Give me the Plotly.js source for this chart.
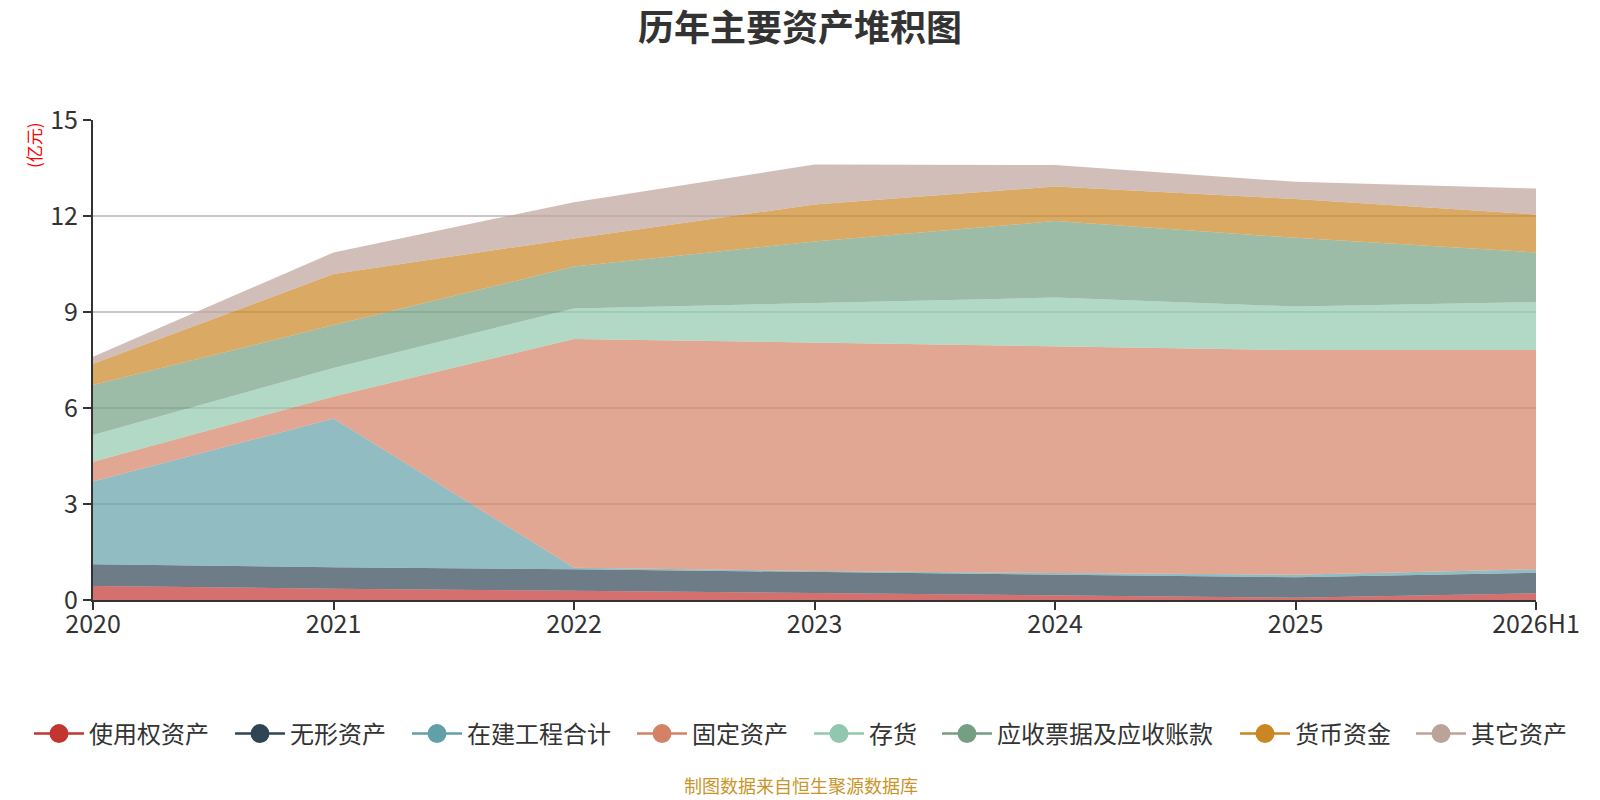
<!DOCTYPE html>
<html>
<head>
<meta charset="utf-8">
<script src="https://cdn.plot.ly/plotly-3.0.1.min.js"></script>
<style>
  html, body { margin: 0; padding: 0; background: #fff; }
  #chart { width: 1600px; height: 800px; }
</style>
</head>
<body>
<div id="chart"></div>
<script>
// 年份
const years = ["2020", "2021", "2022", "2023", "2024", "2025", "2026H1"];

// 各项资产（亿元），按堆积顺序
const rightOfUse   = [0.44, 0.35, 0.29, 0.21, 0.14, 0.07, 0.21];
const intangible   = [0.68, 0.67, 0.67, 0.66, 0.65, 0.64, 0.64];
const construction = [2.58, 4.65, 0.05, 0.04, 0.05, 0.08, 0.11];
const fixedAssets  = [0.62, 0.69, 7.15, 7.14, 7.08, 7.02, 6.85];
const inventory    = [0.84, 0.89, 0.95, 1.22, 1.53, 1.36, 1.50];
const receivables  = [1.56, 1.34, 1.31, 1.93, 2.39, 2.15, 1.55];
const cash         = [0.66, 1.60, 0.88, 1.16, 1.08, 1.21, 1.19];
const others       = [0.22, 0.67, 1.13, 1.25, 0.67, 0.54, 0.81];

const series = [
  { name: "使用权资产", y: rightOfUse, color: "#c23531" },
  { name: "无形资产", y: intangible, color: "#2f4554" },
  { name: "在建工程合计", y: construction, color: "#61a0a8" },
  { name: "固定资产", y: fixedAssets, color: "#d48265" },
  { name: "存货", y: inventory, color: "#91c7ae" },
  { name: "应收票据及应收账款", y: receivables, color: "#749f83" },
  { name: "货币资金", y: cash, color: "#ca8622" },
  { name: "其它资产", y: others, color: "#bda29a" }
];

// left edge of each legend entry's line (px from left)
const legendX = [29, 230, 407, 632, 809, 937, 1235, 1411];

function hexToRgba(hex, a) {
  const n = parseInt(hex.slice(1), 16);
  return "rgba(" + (n >> 16) + "," + ((n >> 8) & 255) + "," + (n & 255) + "," + a + ")";
}

const FONT = '"Noto Sans CJK SC", "Noto Sans", sans-serif';
const W = 1600, H = 800;
const M = { l: 93, r: 64, t: 120, b: 200 };
const plotW = W - M.l - M.r, plotH = H - M.t - M.b;

let traces = [];
// stacked areas
series.forEach(s => {
  traces.push({
    x: years,
    y: s.y,
    name: s.name,
    type: "scatter",
    mode: "lines",
    stackgroup: "one",
    line: { width: 0, color: s.color },
    fillcolor: hexToRgba(s.color, 0.7),
    showlegend: false,
    legendgroup: s.name,
    hoverinfo: "x+y+name"
  });
});
// legend entries (line + circle), one legend each so they spread like the original
series.forEach((s, i) => {
  traces.push({
    x: [null],
    y: [null],
    name: s.name,
    type: "scatter",
    mode: "lines+markers",
    line: { width: 2.5, color: s.color },
    marker: { size: 16, color: s.color, line: { width: 3, color: s.color } },
    legendgroup: s.name,
    legend: i === 0 ? "legend" : "legend" + (i + 1),
    showlegend: true,
    hoverinfo: "skip"
  });
});

const layout = {
  width: W,
  height: H,
  paper_bgcolor: "#fff",
  plot_bgcolor: "#fff",
  font: { family: FONT, color: "#333" },
  margin: M,
  title: {
    text: "<b>历年主要资产堆积图</b>",
    font: { size: 36, color: "#333", family: FONT },
    x: 0.5, xanchor: "center",
    y: 1 - 28 / H, yanchor: "middle"
  },
  xaxis: {
    type: "category",
    range: [0, 6],
    showgrid: false,
    showline: true,
    linecolor: "#333",
    linewidth: 2,
    ticks: "outside",
    ticklen: 8,
    tickwidth: 2,
    tickcolor: "#333",
    tickfont: { size: 25, color: "#333" },
    ticklabelstandoff: -7,
    zeroline: false,
    fixedrange: true
  },
  yaxis: {
    range: [0, 15],
    dtick: 3,
    tick0: 0,
    showgrid: true,
    gridcolor: "#c8c8c8",
    gridwidth: 1.5,
    showline: true,
    linecolor: "#333",
    linewidth: 2,
    ticks: "outside",
    ticklen: 8,
    tickwidth: 2,
    tickcolor: "#333",
    tickfont: { size: 25, color: "#333" },
    zeroline: false,
    fixedrange: true
  },
  annotations: [
    {
      text: "(亿元)",
      xref: "paper", yref: "paper",
      x: (33 - M.l) / plotW, y: (H - M.b - 145) / plotH,
      xanchor: "center", yanchor: "middle",
      textangle: -90,
      showarrow: false,
      font: { size: 17, color: "#ff0000" }
    },
    {
      text: "制图数据来自恒生聚源数据库",
      xref: "paper", yref: "paper",
      x: (801 - M.l) / plotW, y: (H - M.b - 785) / plotH,
      xanchor: "center", yanchor: "middle",
      showarrow: false,
      font: { size: 18, color: "#c9952b" }
    }
  ],
  hovermode: "x"
};

legendX.forEach((lx, i) => {
  const key = i === 0 ? "legend" : "legend" + (i + 1);
  layout[key] = {
    orientation: "h",
    x: (lx - M.l) / plotW, xanchor: "left",
    y: (H - M.b - 734) / plotH, yanchor: "middle",
    font: { size: 24, color: "#333" },
    itemwidth: 50,
    bgcolor: "rgba(0,0,0,0)",
    itemclick: false,
    itemdoubleclick: false
  };
});

Plotly.newPlot("chart", traces, layout, { displayModeBar: false });
</script>
</body>
</html>
